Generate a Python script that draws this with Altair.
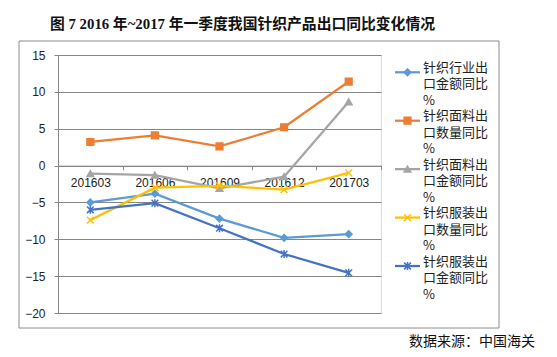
import altair as alt
import pandas as pd

periods = ["201603", "201606", "201609", "201612", "201703"]
series = [
    "针织行业出口金额同比%",
    "针织面料出口数量同比%",
    "针织面料出口金额同比%",
    "针织服装出口数量同比%",
    "针织服装出口金额同比%",
]
v_industry_value = [-5.0, -3.8, -7.2, -9.8, -9.3]
v_fabric_qty = [3.2, 4.1, 2.6, 5.2, 11.4]
v_fabric_value = [-1.1, -1.3, -3.1, -1.5, 8.65]
v_apparel_qty = [-7.4, -3.0, -2.75, -3.25, -1.0]
v_apparel_value = [-6.0, -5.1, -8.5, -12.0, -14.55]
y_ticks = [-20, -15, -10, -5, 0, 5, 10, 15]
title_text = "图 7 2016 年~2017 年一季度我国针织产品出口同比变化情况"
source_text = "数据来源：中国海关"

colors = ["#5B9BD5", "#ED7D31", "#A5A5A5", "#FFC000", "#4472C4"]
shapes = [
    "diamond",
    "square",
    "triangle-up",
    "M-1,-1L1,1M-1,1L1,-1",
    "M-1,-1L1,1M-1,1L1,-1M0,-1.2L0,1.2",
]

all_vals = [v_industry_value, v_fabric_qty, v_fabric_value, v_apparel_qty, v_apparel_value]
rows = []
for s, vals in zip(series, all_vals):
    for p, v in zip(periods, vals):
        rows.append({"series": s, "period": p, "value": v})
df = pd.DataFrame(rows)
legend_df = pd.DataFrame({
    "series": series,
    "label": [s[:5] + "\n" + s[5:10] + "\n" + s[10:] for s in series],
})

W, H = 323, 258
color_scale = alt.Scale(domain=series, range=colors)
shape_scale = alt.Scale(domain=series, range=shapes)
FONT = "Liberation Sans, Noto Sans CJK SC"

x_enc = alt.X(
    "period:O",
    sort=periods,
    scale=alt.Scale(type="band", paddingInner=0, paddingOuter=0),
    axis=alt.Axis(
        title=None, labelAngle=0, offset=-(H - 110.7), tickBand="extent",
        domainColor="#868686", tickColor="#868686", tickSize=4, labelPadding=8,
        labelFontSize=12, labelFont=FONT, labelColor="#222222", grid=False,
        labelOverlap=False,
    ),
)
y_enc = alt.Y(
    "value:Q",
    scale=alt.Scale(domain=[-20, 15], nice=False, zero=False),
    axis=alt.Axis(
        title=None, values=y_ticks, grid=True, labelOverlap=False,
        gridColor="#868686", gridWidth=1, domainColor="#868686",
        tickColor="#868686", tickSize=4, labelPadding=9, labelFontSize=12,
        labelFont=FONT, labelColor="#222222",
    ),
)

base = alt.Chart(df)
lines = base.mark_line(strokeWidth=2.25).encode(
    x=x_enc, y=y_enc,
    color=alt.Color("series:N", scale=color_scale, legend=None),
    detail="series:N",
)
points = base.mark_point(size=45, strokeWidth=1.5, opacity=1).encode(
    x=x_enc, y=y_enc,
    fill=alt.Fill("series:N", scale=color_scale, legend=None),
    stroke=alt.Stroke("series:N", scale=color_scale, legend=None),
    shape=alt.Shape("series:N", scale=shape_scale, legend=None),
)
main = alt.layer(lines, points)

leg_y = alt.Y("series:N", sort=series, scale=alt.Scale(type="point", range=[17.3, 211], padding=0), axis=None)
leg_base = alt.Chart(legend_df)
leg_rule = leg_base.mark_rule(strokeWidth=2.25).encode(
    x=alt.value(337), x2=alt.value(362), y=leg_y,
    color=alt.Color("series:N", scale=color_scale, legend=None),
)
leg_pt = leg_base.mark_point(size=45, strokeWidth=1.5, opacity=1).encode(
    x=alt.value(349.5), y=leg_y,
    fill=alt.Fill("series:N", scale=color_scale, legend=None),
    stroke=alt.Stroke("series:N", scale=color_scale, legend=None),
    shape=alt.Shape("series:N", scale=shape_scale, legend=None),
)
leg_txt = leg_base.mark_text(
    align="left", baseline="top", dy=-10.5, lineBreak="\n", lineHeight=16.5,
    fontSize=13, font="Noto Sans CJK SC", color="#222222",
).encode(x=alt.value(365), y=leg_y, text="label:N")
legend = alt.layer(leg_rule, leg_pt, leg_txt)

frame = alt.Chart(pd.DataFrame({"a": [0]})).mark_rect(
    fill=None, stroke="#8c8c8c", strokeWidth=1
).encode(x=alt.value(-39), x2=alt.value(441), y=alt.value(-14), y2=alt.value(273))

title = alt.Chart(pd.DataFrame({"t": [title_text]})).mark_text(
    align="center", baseline="middle", fontSize=14.8, fontWeight="bold",
    font="Liberation Serif, Noto Sans CJK SC", color="#111111",
).encode(x=alt.value(184.5), y=alt.value(-30), text="t:N")

source = alt.Chart(pd.DataFrame({"t": [source_text]})).mark_text(
    align="right", baseline="middle", fontSize=14, font="Noto Sans CJK SC", color="#111111",
).encode(x=alt.value(477), y=alt.value(286.7), text="t:N")

chart = alt.layer(frame, main, legend, title, source).resolve_scale(
    y="independent"
).properties(
    width=W, height=H,
    autosize=alt.AutoSizeParams(type="none"),
    padding={"left": 50, "top": 47, "right": 168, "bottom": 38},
).configure_view(stroke=None).configure(background="white")

chart.save("out.html", embed_options={"renderer": "svg", "actions": False})
